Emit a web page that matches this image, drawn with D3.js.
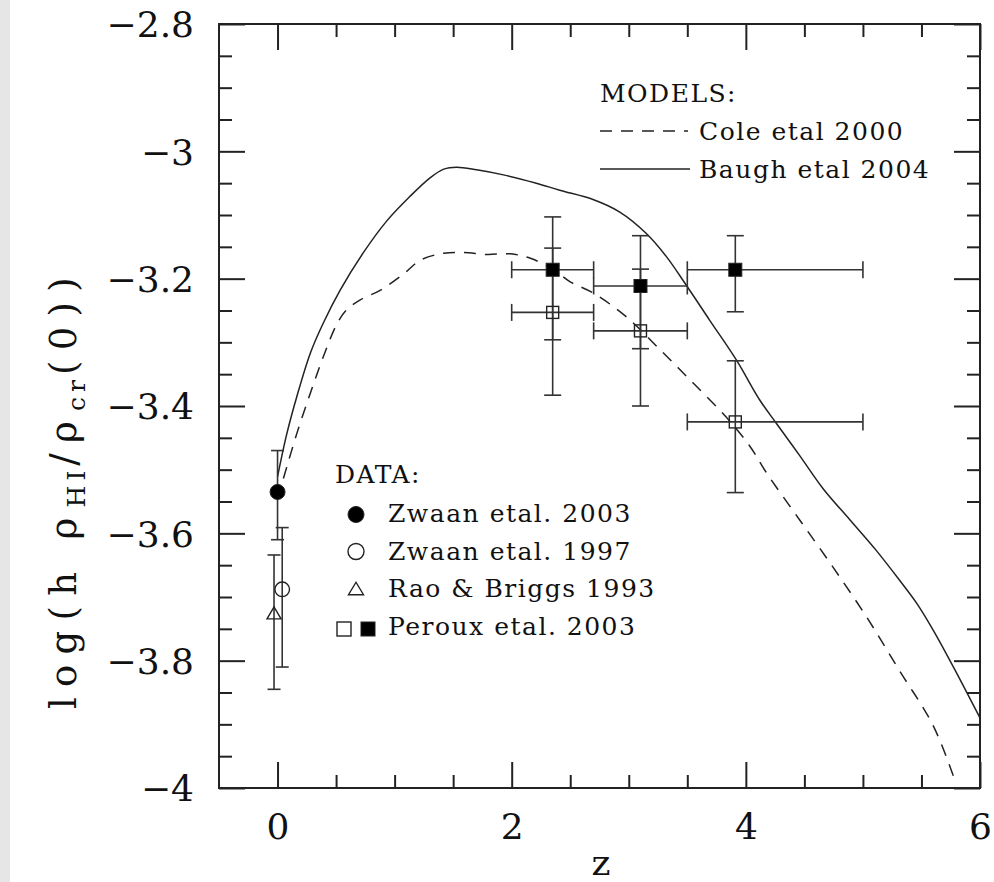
<!DOCTYPE html>
<html>
<head>
<meta charset="utf-8">
<script src="https://cdn.jsdelivr.net/npm/d3@7"></script>
<style>
  html, body { margin: 0; padding: 0; background: #fff; }
  svg { display: block; }
  text { font-family: "DejaVu Serif", "Liberation Serif", serif; fill: #111; }
</style>
</head>
<body>
<svg id="chart" width="994" height="882"></svg>
<script>
// ---------------- DATA ----------------
// Model curves: [z, log(h rho_HI / rho_cr(0))]
const baugh2004 = [
  [0.0, -3.511], [0.08, -3.443], [0.165, -3.385], [0.28, -3.317], [0.39, -3.270],
  [0.535, -3.218], [0.73, -3.160], [0.93, -3.110], [1.13, -3.071], [1.30, -3.042],
  [1.42, -3.028], [1.53, -3.025], [1.70, -3.029], [1.93, -3.037], [2.21, -3.050],
  [2.41, -3.061], [2.70, -3.076], [2.92, -3.095], [3.15, -3.129], [3.32, -3.165],
  [3.49, -3.210], [3.69, -3.265], [3.92, -3.328], [4.12, -3.391], [4.26, -3.427],
  [4.46, -3.478], [4.66, -3.530], [4.89, -3.579], [5.11, -3.626], [5.31, -3.673],
  [5.46, -3.710], [5.60, -3.752], [5.77, -3.809], [6.0, -3.890]
];
const cole2000 = [
  [0.05, -3.514], [0.165, -3.443], [0.28, -3.380], [0.39, -3.323], [0.51, -3.270],
  [0.59, -3.249], [0.71, -3.233], [0.88, -3.218], [1.08, -3.192], [1.22, -3.171],
  [1.42, -3.160], [1.59, -3.159], [1.79, -3.162], [1.99, -3.161], [2.16, -3.168],
  [2.36, -3.186], [2.50, -3.205], [2.70, -3.223], [2.98, -3.260], [3.27, -3.312],
  [3.55, -3.364], [3.83, -3.417], [4.03, -3.462], [4.18, -3.506], [4.46, -3.579],
  [4.74, -3.652], [5.03, -3.731], [5.31, -3.815], [5.60, -3.902], [5.78, -3.985]
];
// Observations: [z, value, lowerValue, upperValue]
const zwaan2003 = [[0.0, -3.535, -3.610, -3.470]];
const zwaan1997 = [[0.04, -3.688, -3.810, -3.591]];
const raoBriggs1993 = [[-0.03, -3.725, -3.845, -3.634]];
// Peroux: [z, zLow, zHigh, value, lowerValue, upperValue]
const perouxOpen = [
  [2.35, 2.0, 2.7, -3.253, -3.383, -3.152],
  [3.10, 2.7, 3.5, -3.282, -3.400, -3.185],
  [3.91, 3.5, 5.0, -3.425, -3.536, -3.329]
];
const perouxFilled = [
  [2.35, 2.0, 2.7, -3.186, -3.296, -3.103],
  [3.10, 2.7, 3.5, -3.2115, -3.310, -3.1325],
  [3.91, 3.5, 5.0, -3.186, -3.252, -3.1325]
];
// Axes
const xMajorTicks = [0, 2, 4, 6];
const xMinorTicks = [0.5, 1, 1.5, 2.5, 3, 3.5, 4.5, 5, 5.5];
const yMajorTicks = [-4, -3.8, -3.6, -3.4, -3.2, -3, -2.8];
const yTickLabels = ["\u22124", "\u22123.8", "\u22123.6", "\u22123.4", "\u22123.2", "\u22123", "\u22122.8"];
const yMinorTicks = d3.range(0, 25).map(i => -4 + i * 0.05).filter(v => !yMajorTicks.some(m => Math.abs(m - v) < 1e-6));
const modelLabels = ["Cole etal 2000", "Baugh etal 2004"];
const dataLabels = ["Zwaan etal. 2003", "Zwaan etal. 1997", "Rao & Briggs 1993", "Peroux etal. 2003"];

// ---------------- LAYOUT ----------------
const svg = d3.select("#chart");
const pLeft = 219, pRight = 980, pTop = 24, pBottom = 788;
const x = d3.scaleLinear().domain([-0.5, 6]).range([pLeft, pRight]);
const y = d3.scaleLinear().domain([-4, -2.8]).range([pBottom, pTop]);
const ink = "#222";

svg.append("rect").attr("x", 0).attr("y", 0).attr("width", 994).attr("height", 882).attr("fill", "#fff");
svg.append("rect").attr("x", 0).attr("y", 0).attr("width", 10).attr("height", 882).attr("fill", "#e6e6e6");

function styleAxis(g) {
  g.select(".domain").remove();
  g.selectAll(".tick line").attr("stroke", ink).attr("stroke-width", 2);
  g.selectAll(".tick text").attr("font-family", "DejaVu Serif").attr("font-size", 36).attr("fill", "#111");
}
// bottom
svg.append("g").attr("transform", `translate(0,${pBottom})`)
  .call(d3.axisBottom(x).tickValues(xMajorTicks).tickSize(-26).tickPadding(25).tickFormat(d3.format("d")))
  .call(styleAxis);
svg.append("g").attr("transform", `translate(0,${pBottom})`)
  .call(d3.axisBottom(x).tickValues(xMinorTicks).tickSize(-13).tickFormat(""))
  .call(styleAxis);
// top
svg.append("g").attr("transform", `translate(0,${pTop})`)
  .call(d3.axisTop(x).tickValues(xMajorTicks).tickSize(-26).tickFormat(""))
  .call(styleAxis);
svg.append("g").attr("transform", `translate(0,${pTop})`)
  .call(d3.axisTop(x).tickValues(xMinorTicks).tickSize(-13).tickFormat(""))
  .call(styleAxis);
// left
svg.append("g").attr("transform", `translate(${pLeft},0)`)
  .call(d3.axisLeft(y).tickValues(yMajorTicks).tickSize(-26).tickPadding(25)
    .tickFormat((d, i) => yTickLabels[i]))
  .call(styleAxis)
  .call(g => g.selectAll(".tick text").attr("dy", "0.36em"));
svg.append("g").attr("transform", `translate(${pLeft},0)`)
  .call(d3.axisLeft(y).tickValues(yMinorTicks).tickSize(-13).tickFormat(""))
  .call(styleAxis);
// right
svg.append("g").attr("transform", `translate(${pRight},0)`)
  .call(d3.axisRight(y).tickValues(yMajorTicks).tickSize(-26).tickFormat(""))
  .call(styleAxis);
svg.append("g").attr("transform", `translate(${pRight},0)`)
  .call(d3.axisRight(y).tickValues(yMinorTicks).tickSize(-13).tickFormat(""))
  .call(styleAxis);

// frame
svg.append("rect").attr("x", pLeft).attr("y", pTop).attr("width", pRight - pLeft).attr("height", pBottom - pTop)
  .attr("fill", "none").attr("stroke", ink).attr("stroke-width", 2);

// axis titles
svg.append("text").attr("x", 601).attr("y", 875).attr("text-anchor", "middle")
  .attr("font-size", 36).text("z");

const yl = svg.append("text").attr("transform", "translate(76,488) rotate(-90)")
  .attr("text-anchor", "middle").attr("font-size", 37).attr("letter-spacing", 10.3);
yl.append("tspan").text("log(h \u03c1");
yl.append("tspan").attr("dy", 9).attr("font-size", 25).attr("letter-spacing", 5).text("HI");
yl.append("tspan").attr("dy", -9).text("/\u03c1");
yl.append("tspan").attr("dy", 9).attr("font-size", 25).attr("letter-spacing", 5).text("cr");
yl.append("tspan").attr("dy", -9).text("(0))");

// ---------------- CURVES ----------------
const line = d3.line().x(d => x(d[0])).y(d => y(d[1])).curve(d3.curveCatmullRom.alpha(0.5));
const plot = svg.append("g");
plot.append("path").datum(cole2000).attr("d", line).attr("fill", "none")
  .attr("stroke", ink).attr("stroke-width", 1.5).attr("stroke-dasharray", "12,9");
plot.append("path").datum(baugh2004).attr("d", line).attr("fill", "none")
  .attr("stroke", ink).attr("stroke-width", 1.5);

// ---------------- ERROR BARS ----------------
const eb = plot.append("g").attr("stroke", "#333").attr("stroke-width", 1.6).attr("fill", "none");
function vErr(z, lo, hi, cap) {
  eb.append("line").attr("x1", x(z)).attr("x2", x(z)).attr("y1", y(lo)).attr("y2", y(hi));
  [lo, hi].forEach(v => eb.append("line").attr("x1", x(z) - cap / 2).attr("x2", x(z) + cap / 2)
    .attr("y1", y(v)).attr("y2", y(v)));
}
function hErr(v, z0, z1, cap) {
  eb.append("line").attr("x1", x(z0)).attr("x2", x(z1)).attr("y1", y(v)).attr("y2", y(v));
  [z0, z1].forEach(z => eb.append("line").attr("x1", x(z)).attr("x2", x(z))
    .attr("y1", y(v) - cap / 2).attr("y2", y(v) + cap / 2));
}
[zwaan2003, zwaan1997, raoBriggs1993].forEach(arr => arr.forEach(d => vErr(d[0], d[2], d[3], 13)));
[perouxOpen, perouxFilled].forEach(arr => arr.forEach(d => {
  vErr(d[0], d[4], d[5], 17);
  hErr(d[3], d[1], d[2], 17);
}));

// ---------------- MARKERS ----------------
const mk = svg.append("g");
function circle(g, cx, cy, r, filled) {
  g.append("circle").attr("cx", cx).attr("cy", cy).attr("r", r)
    .attr("fill", filled ? "#000" : "none").attr("stroke", "#222").attr("stroke-width", filled ? 1 : 1.4);
}
function square(g, cx, cy, s, filled) {
  g.append("rect").attr("x", cx - s / 2).attr("y", cy - s / 2).attr("width", s).attr("height", s)
    .attr("fill", filled ? "#000" : "none").attr("stroke", "#222").attr("stroke-width", filled ? 1 : 1.4);
}
function triangle(g, cx, cy, w, h) {
  g.append("path").attr("d", `M${cx},${cy - h / 2}L${cx + w / 2},${cy + h / 2}L${cx - w / 2},${cy + h / 2}Z`)
    .attr("fill", "none").attr("stroke", "#222").attr("stroke-width", 1.4);
}
zwaan2003.forEach(d => circle(mk, x(d[0]), y(d[1]), 7.5, true));
zwaan1997.forEach(d => circle(mk, x(d[0]), y(d[1]), 7.3, false));
raoBriggs1993.forEach(d => triangle(mk, x(d[0]), y(d[1]), 14, 12));
perouxOpen.forEach(d => square(mk, x(d[0]), y(d[3]), 12, false));
perouxFilled.forEach(d => square(mk, x(d[0]), y(d[3]), 13, true));

// ---------------- LEGENDS ----------------
const lg = svg.append("g").attr("font-size", 25).attr("letter-spacing", 1.5);
lg.append("text").attr("x", 600).attr("y", 102).text("MODELS:");
lg.append("line").attr("x1", 600).attr("x2", 688).attr("y1", 131).attr("y2", 131)
  .attr("stroke", ink).attr("stroke-width", 1.5).attr("stroke-dasharray", "12,9");
lg.append("text").attr("x", 699).attr("y", 140).text(modelLabels[0]);
lg.append("line").attr("x1", 600).attr("x2", 690).attr("y1", 169).attr("y2", 169)
  .attr("stroke", ink).attr("stroke-width", 1.5);
lg.append("text").attr("x", 699).attr("y", 178).text(modelLabels[1]);

lg.append("text").attr("x", 335).attr("y", 483).text("DATA:");
const rowY = [514.5, 551.5, 588.5, 629];
const textY = [522, 559.5, 596.5, 635];
circle(lg, 356, rowY[0], 8, true);
circle(lg, 356, rowY[1], 8, false);
triangle(lg, 356, rowY[2], 15, 12.5);
square(lg, 344, rowY[3], 14, false);
square(lg, 368, rowY[3], 14, true);
dataLabels.forEach((t, i) => lg.append("text").attr("x", 388).attr("y", textY[i]).text(t));
</script>
</body>
</html>
